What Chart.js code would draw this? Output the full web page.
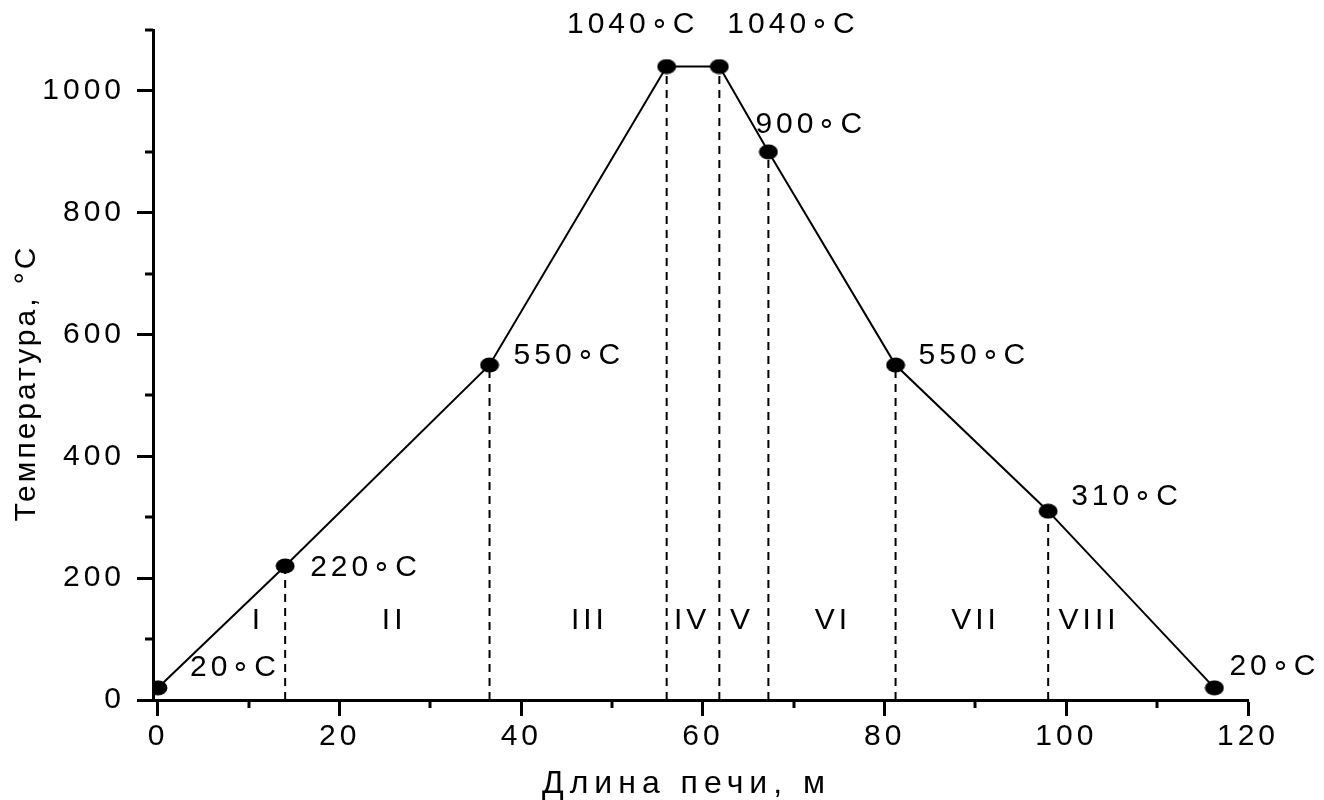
<!DOCTYPE html>
<html>
<head>
<meta charset="utf-8">
<script src="https://cdn.jsdelivr.net/npm/chart.js@4.4.1/dist/chart.umd.min.js"></script>
<style>
  html, body { margin: 0; padding: 0; background: #fff; }
  #wrap { width: 1324px; height: 800px; }
</style>
</head>
<body>
<div id="wrap"><canvas id="c" width="1324" height="800"></canvas></div>
<script>
// ---- data ----
const lengths = [0, 14, 36.5, 56, 61.8, 67.2, 81.2, 98, 116.3];
const temps   = [20, 220, 550, 1040, 1040, 900, 550, 310, 20];
const pointLabels = ['20\u2218C', '220\u2218C', '550\u2218C', '1040\u2218C', '1040\u2218C', '900\u2218C', '550\u2218C', '310\u2218C', '20\u2218C'];
const dashedIdx = [1, 2, 3, 4, 5, 6, 7];
const zoneNames = ['I', 'II', 'III', 'IV', 'V', 'VI', 'VII', 'VIII'];
const zoneX = [11, 26, 47.5, 58.8, 64.3, 74.3, 90, 102.5];
const zoneY = 130;
const xMajorTicks = [0, 20, 40, 60, 80, 100, 120];
const xMinorTicks = [10, 30, 50, 70, 90, 110];
const yMajorTicks = [0, 200, 400, 600, 800, 1000];
const yMinorTicks = [100, 300, 500, 700, 900, 1100];
const xTitle = 'Длина печи, м';
const yTitle = 'Температура, °C';

// label offsets (pixels) relative to each point: [dx, dy, align]
const labelOffsets = [
  [77, -20, 'center'],
  [25, 2, 'left'],
  [24, -9, 'left'],
  [-34, -42, 'center'],
  [8, -42, 'left'],
  [-13, -27, 'left'],
  [23, -9, 'left'],
  [23, -14, 'left'],
  [15, -21, 'left']
];

const FONT = 'Arial, "Liberation Sans", "Noto Sans CJK SC", sans-serif';
const SPACING = '4px';

// ellipse point marker
function makeDot() {
  const c = document.createElement('canvas');
  c.width = 20; c.height = 16;
  const g = c.getContext('2d');
  g.fillStyle = '#000';
  g.beginPath();
  g.ellipse(10, 8, 9.5, 7.5, 0, 0, Math.PI * 2);
  g.fill();
  return c;
}
const dot = makeDot();

const mainData = lengths.map((x, i) => ({ x: x, y: temps[i] }));
const dashedSets = dashedIdx.map(i => ({
  type: 'line',
  data: [{ x: lengths[i], y: 0 }, { x: lengths[i], y: temps[i] }],
  borderColor: '#000',
  borderWidth: 2,
  borderDash: [8, 6],
  pointRadius: 0,
  showLine: true,
  order: 2
}));

const spacingPlugin = {
  id: 'spacing',
  beforeUpdate(chart) { chart.ctx.letterSpacing = SPACING; },
  beforeLayout(chart) { chart.ctx.letterSpacing = SPACING; },
  beforeDraw(chart) { chart.ctx.letterSpacing = SPACING; }
};

const extrasPlugin = {
  id: 'extras',
  afterDraw(chart) {
    const ctx = chart.ctx;
    const xs = chart.scales.x, ys = chart.scales.y;
    const area = chart.chartArea;
    ctx.save();
    // minor ticks
    ctx.strokeStyle = '#000';
    ctx.lineWidth = 3;
    ctx.beginPath();
    xMinorTicks.forEach(v => {
      const px = Math.round(xs.getPixelForValue(v));
      ctx.moveTo(px, ys.bottom); ctx.lineTo(px, ys.bottom + 8);
    });
    yMinorTicks.forEach(v => {
      const py = Math.round(ys.getPixelForValue(v));
      ctx.moveTo(xs.left, py); ctx.lineTo(xs.left - 8, py);
    });
    ctx.stroke();
    // point labels
    ctx.fillStyle = '#000';
    ctx.letterSpacing = SPACING;
    ctx.font = '30px ' + FONT;
    ctx.textBaseline = 'middle';
    pointLabels.forEach((t, i) => {
      const px = xs.getPixelForValue(lengths[i]);
      const py = ys.getPixelForValue(temps[i]);
      const o = labelOffsets[i];
      ctx.textAlign = o[2];
      ctx.fillText(t, px + o[0], py + o[1]);
    });
    // zone labels
    ctx.textAlign = 'center';
    zoneNames.forEach((t, i) => {
      ctx.fillText(t, xs.getPixelForValue(zoneX[i]), ys.getPixelForValue(zoneY));
    });
    // axis titles
    ctx.font = '32px ' + FONT;
    ctx.letterSpacing = '6px';
    ctx.textBaseline = 'alphabetic';
    ctx.textAlign = 'center';
    ctx.fillText(xTitle, (area.left + area.right) / 2 - 14, 793);
    ctx.font = '30px ' + FONT;
    ctx.letterSpacing = '3px';
    ctx.translate(35, (area.top + area.bottom) / 2 + 18);
    ctx.rotate(-Math.PI / 2);
    ctx.fillText(yTitle, 0, 0);
    ctx.restore();
  }
};

new Chart(document.getElementById('c'), {
  type: 'scatter',
  data: {
    datasets: [{
      type: 'line',
      data: mainData,
      borderColor: '#000',
      borderWidth: 2,
      pointStyle: dot,
      pointRadius: 8,
      showLine: true,
      order: 1
    }].concat(dashedSets)
  },
  options: {
    responsive: false,
    animation: false,
    devicePixelRatio: 1,
    layout: { padding: { top: 29, right: 76, left: 0, bottom: 0 } },
    plugins: { legend: { display: false }, tooltip: { enabled: false } },
    scales: {
      x: {
        type: 'linear',
        min: -0.55,
        max: 120,
        afterBuildTicks(s) { s.ticks = xMajorTicks.map(v => ({ value: v })); },
        afterFit(s) { s.height = 100; },
        border: { display: true, color: '#000', width: 3 },
        grid: { drawOnChartArea: false, drawTicks: true, tickLength: 16, tickWidth: 3, tickColor: '#000' },
        ticks: { color: '#000', font: { family: FONT, size: 30 }, padding: 3, maxRotation: 0,
                 callback: v => String(v) }
      },
      y: {
        type: 'linear',
        min: 0,
        max: 1100,
        afterBuildTicks(s) { s.ticks = yMajorTicks.map(v => ({ value: v })); },
        afterFit(s) { s.width = 153; },
        border: { display: true, color: '#000', width: 3 },
        grid: { drawOnChartArea: false, drawTicks: true, tickLength: 16, tickWidth: 3, tickColor: '#000' },
        ticks: { color: '#000', font: { family: FONT, size: 30 }, padding: 12,
                 callback: v => String(v) }
      }
    }
  },
  plugins: [spacingPlugin, extrasPlugin]
});
</script>
</body>
</html>
